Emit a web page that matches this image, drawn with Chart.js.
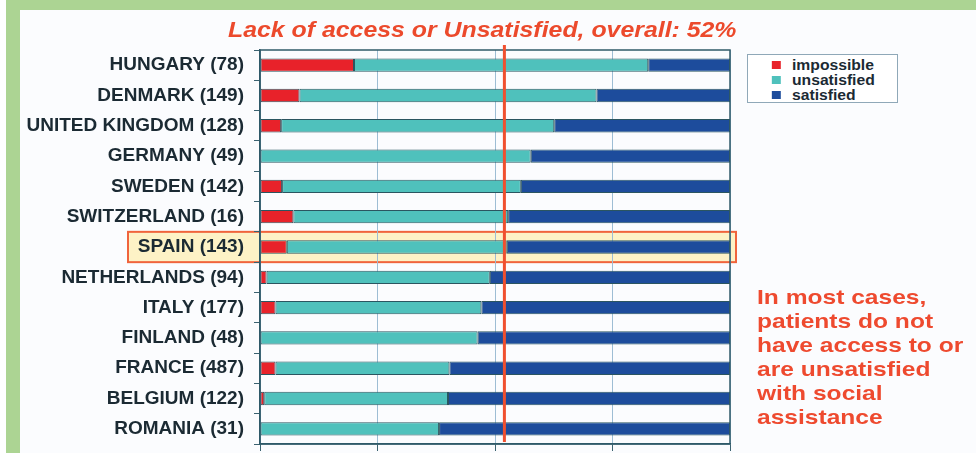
<!DOCTYPE html>
<html>
<head>
<meta charset="utf-8">
<script src="https://cdn.jsdelivr.net/npm/chart.js@4.4.1/dist/chart.umd.min.js"></script>
<style>
body{margin:0;background:#fff;font-family:"Liberation Sans",Arial,sans-serif;}
#wrap{position:relative;width:976px;height:453px;overflow:hidden;background:#fff;}
#panel{position:absolute;left:20px;top:10px;right:0;bottom:0;background:#fbfcfe;}
#gtop{position:absolute;left:6px;top:0;width:970px;height:10px;background:#acd493;}
#gleft{position:absolute;left:6px;top:0;width:14px;height:453px;background:#acd493;}
canvas{position:absolute;left:0;top:0;}
#title{position:absolute;left:228px;top:17px;white-space:nowrap;font:italic bold 22px "Liberation Sans",Arial,sans-serif;color:#ec4a2c;transform:scaleX(1.13);transform-origin:left;}
#legend{position:absolute;left:747px;top:54px;width:149px;height:47px;border:1px solid #8fa8b8;background:#fff;}
#legend div{position:absolute;left:44px;font:bold 14px "Liberation Sans",Arial,sans-serif;color:#1b2a33;transform:scaleX(1.12);transform-origin:left;}
#legend span{position:absolute;width:8px;height:8px;left:-18px;top:4px;}
#note{position:absolute;left:757px;top:285px;white-space:nowrap;font:bold 21px/24px "Liberation Sans",Arial,sans-serif;color:#ee4a2f;transform:scaleX(1.17);transform-origin:left;}
</style>
</head>
<body>
<div id="wrap">
  <div id="panel"></div>
  <div id="gtop"></div>
  <div id="gleft"></div>
  <canvas id="myChart" width="976" height="453"></canvas>
  <div id="title">Lack of access or Unsatisfied, overall: 52%</div>
  <div id="legend"></div>
  <div id="note">In most cases,<br>patients do not<br>have access to or<br>are unsatisfied<br>with social<br>assistance</div>
</div>
<script>
// values, in percent of patients
var countries=['HUNGARY (78)','DENMARK (149)','UNITED KINGDOM (128)','GERMANY (49)','SWEDEN (142)','SWITZERLAND (16)','SPAIN (143)','NETHERLANDS (94)','ITALY (177)','FINLAND (48)','FRANCE (487)','BELGIUM (122)','ROMANIA (31)'];
var impossible=[20,8.4,4.5,0,4.7,7.1,5.7,1.4,3.3,0,3.3,0.9,0];
var unsatisfied=[62.6,63.2,58.1,57.6,50.8,45.7,46.8,47.5,43.8,46.3,37.0,39.1,38.1];
var satisfied=[17.4,28.4,37.4,42.4,44.5,47.2,47.5,51.1,52.9,53.7,59.7,60.0,61.9];
var xTicks=[0,25,50,75,100];
var overall=52;
var highlight='SPAIN (143)';

var seriesNames=['impossible','unsatisfied','satisfied'];
var seriesColors=['#e8222a','#4fc1bc','#1d4c9c'];

var extras={
  id:'extras',
  beforeDraw:function(c){
    var ctx=c.ctx, y=c.scales.y, a=c.chartArea;
    var i=countries.indexOf(highlight);
    var h=(y.getPixelForValue(1)-y.getPixelForValue(0));
    var cy=y.getPixelForValue(i);
    ctx.save();
    ctx.fillStyle='#fdf2c6';
    ctx.strokeStyle='#f0643c';
    ctx.lineWidth=2;
    ctx.fillRect(128,cy-h/2,a.right+6-128,h);
    ctx.strokeRect(128,cy-h/2,a.right+6-128,h);
    ctx.restore();
  },
  afterDatasetsDraw:function(c){
    var ctx=c.ctx, a=c.chartArea, x=c.scales.x;
    ctx.save();
    ctx.strokeStyle='#2f5a68';
    ctx.lineWidth=1.5;
    ctx.strokeRect(a.left,a.top,a.right-a.left,a.bottom-a.top);
    var px=x.getPixelForValue(overall);
    ctx.strokeStyle='#f0502f';
    ctx.lineWidth=3;
    ctx.beginPath();
    ctx.moveTo(px,a.top-5);
    ctx.lineTo(px,a.bottom-2);
    ctx.stroke();
    ctx.restore();
  }
};

var sets=[impossible,unsatisfied,satisfied].map(function(d,k){
  return {label:seriesNames[k],data:d,backgroundColor:seriesColors[k],borderColor:'#2b5560',borderWidth:1,borderSkipped:false,categoryPercentage:1,barPercentage:0.44};
});

var chart=new Chart(document.getElementById('myChart'),{
  type:'bar',
  data:{labels:countries,datasets:sets},
  options:{
    indexAxis:'y',
    responsive:false,
    animation:false,
    devicePixelRatio:1,
    layout:{padding:{left:20,right:246,top:50,bottom:1}},
    plugins:{legend:{display:false},tooltip:{enabled:false}},
    scales:{
      x:{
        stacked:true,min:0,max:100,
        afterBuildTicks:function(s){s.ticks=xTicks.map(function(v){return {value:v};});},
        ticks:{display:false},
        grid:{color:'#9dbdd4',tickColor:'#3b6270',tickLength:7},
        border:{color:'#2f5a68',width:1.5},
        afterFit:function(s){s.height=8;s.paddingLeft=0;s.paddingRight=0;}
      },
      y:{
        stacked:true,
        ticks:{color:'#1b2a33',font:{family:'"Liberation Sans", Arial, sans-serif',size:19,weight:'bold'},padding:10},
        grid:{drawOnChartArea:false,tickColor:'#3b6270',tickLength:6},
        border:{color:'#2f5a68',width:1.5},
        afterFit:function(s){s.width=240;s.paddingTop=0;s.paddingBottom=0;}
      }
    }
  },
  plugins:[extras]
});

// legend box built from the datasets
var lg=document.getElementById('legend');
sets.forEach(function(s,k){
  var d=document.createElement('div');
  d.style.top=(2+k*15)+'px';
  d.innerHTML='<span style="background:'+s.backgroundColor+'"></span>'+s.label;
  lg.appendChild(d);
});
</script>
</body>
</html>
